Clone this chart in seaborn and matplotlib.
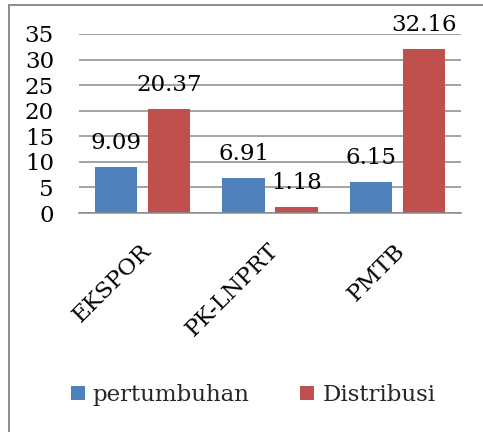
import matplotlib
matplotlib.use("Agg")
import matplotlib.pyplot as plt
import matplotlib.transforms as mtransforms
from matplotlib.lines import Line2D
from matplotlib.patches import Patch
import pandas as pd
import seaborn as sns

# Data
categories = ["EKSPOR", "PK-LNPRT", "PMTB"]
pertumbuhan = [9.09, 6.91, 6.15]
distribusi = [20.37, 1.18, 32.16]
series_names = ["pertumbuhan", "Distribusi"]
y_ticks = [0, 5, 10, 15, 20, 25, 30, 35]

df = pd.DataFrame({
    "kategori": categories * 2,
    "nilai": pertumbuhan + distribusi,
    "seri": [series_names[0]] * 3 + [series_names[1]] * 3,
})

sns.set_theme(style="white")
plt.rcParams["font.family"] = ["DejaVu Serif"]

colors = ["#4F81BD", "#C0504D"]
grid_color = "#8A8A8A"
fs = 16.5

fig = plt.figure(figsize=(4.83, 4.32), dpi=100)
ax = fig.add_axes([79 / 483, 1 - 213 / 432, (461 - 79) / 483, (213 - 34) / 432])

sns.barplot(data=df, x="kategori", y="nilai", hue="seri", palette=colors,
            hue_order=series_names, order=categories, width=0.83, gap=0.2,
            linewidth=0, saturation=1, ax=ax, legend=False)

ax.set_ylim(0, 35)
ax.set_xlim(-0.5, 2.5)
ax.set_yticks(y_ticks)
ax.set_yticklabels([str(v) for v in y_ticks])
ax.set_xlabel("")
ax.set_ylabel("")
ax.set_axisbelow(True)
ax.yaxis.grid(True, color=grid_color, linewidth=1.1)
ax.xaxis.grid(False)
for side in ["left", "right", "top"]:
    ax.spines[side].set_visible(False)
ax.spines["bottom"].set_color(grid_color)
ax.spines["bottom"].set_linewidth(1.1)

ax.tick_params(axis="y", length=0, pad=18, labelsize=fs, labelcolor="black")
ax.tick_params(axis="x", length=0, pad=19, labelsize=fs, labelcolor="black")

shift = mtransforms.ScaledTranslation(-3 / 100, 0, fig.dpi_scale_trans)
for lbl in ax.get_xticklabels():
    lbl.set_rotation(45)
    lbl.set_ha("right")
    lbl.set_va("top")
    lbl.set_rotation_mode("anchor")
    lbl.set_transform(lbl.get_transform() + shift)

# Value labels above each bar
for container in ax.containers:
    ax.bar_label(container, fmt="%.2f", padding=9, fontsize=fs, color="black")

# Legend below the plot
handles = [Patch(facecolor=c, edgecolor="none") for c in colors]
fig.legend(handles, series_names, loc="center", bbox_to_anchor=(253 / 483, 1 - 395 / 432),
           ncol=2, frameon=False, fontsize=fs, handlelength=0.62, handleheight=0.62,
           handletextpad=0.35, columnspacing=2.2, borderaxespad=0)

# Chart-area border
fig.add_artist(Line2D([8.5 / 483, 8.5 / 483], [0, 1 - 5 / 432], transform=fig.transFigure,
                      color=grid_color, linewidth=1.4))
fig.add_artist(Line2D([8.5 / 483, 1], [1 - 5 / 432, 1 - 5 / 432], transform=fig.transFigure,
                      color=grid_color, linewidth=1.4))

fig.savefig("out.png", dpi=100, facecolor="white")
